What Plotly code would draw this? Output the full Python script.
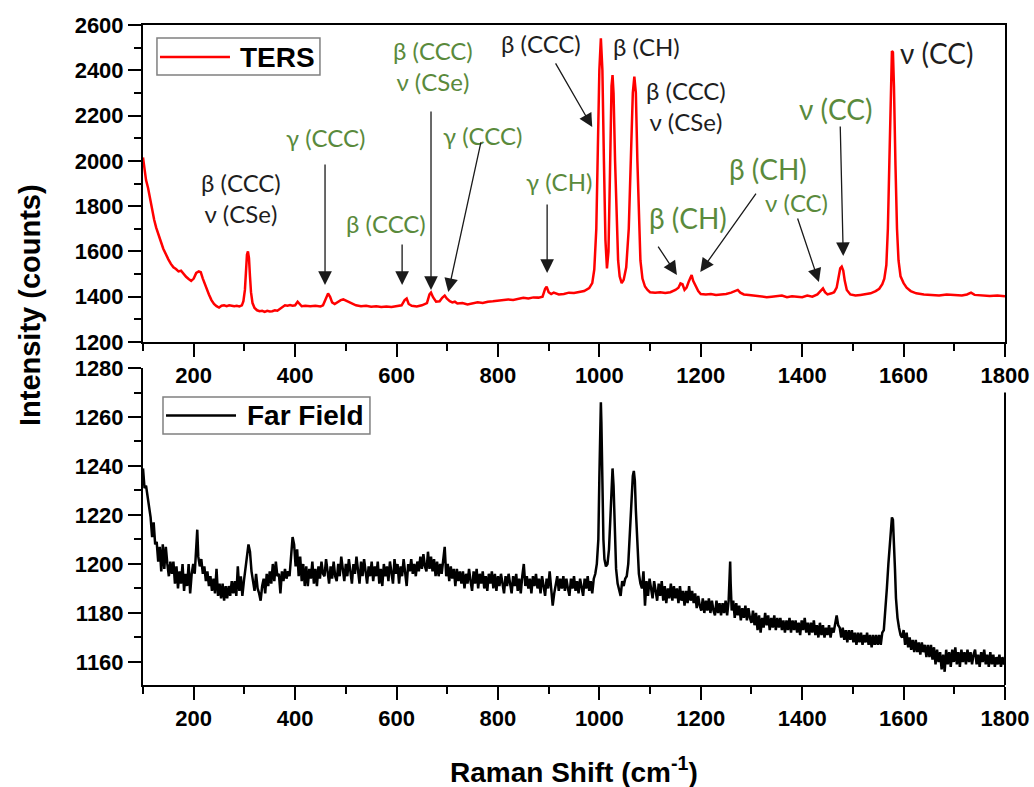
import plotly.graph_objects as go

# ---------------- data ----------------
ters_x = [100, 103, 106, 110, 114, 118, 122, 126, 130, 135, 140, 145, 150, 155, 160, 165, 170, 175, 180, 185,
          190, 195, 200, 205, 210, 214, 218, 222, 226, 230, 235, 240, 245, 250, 255, 260, 265, 270, 275, 280,
          285, 290, 295, 298, 301, 303, 305, 307, 309, 311, 313, 316, 320, 325, 330, 335, 340, 345, 350, 355,
          360, 365, 370, 375, 380, 385, 390, 395, 400, 405, 409, 413, 420, 430, 440, 450, 455, 460, 465, 469,
          473, 478, 485, 490, 495, 500, 505, 510, 520, 530, 540, 550, 560, 570, 580, 590, 600, 610, 616, 620,
          624, 630, 640, 650, 660, 665, 668, 672, 678, 685, 690, 695, 699, 705, 710, 715, 720, 730, 740, 750,
          760, 770, 780, 790, 800, 810, 820, 830, 840, 850, 860, 870, 880, 888, 893, 896, 900, 905, 910, 920,
          930, 940, 950, 960, 970, 980, 986, 990, 994, 997, 1000, 1003, 1006, 1009, 1012, 1015, 1018, 1021, 1024, 1026,
          1028, 1031, 1034, 1037, 1040, 1044, 1048, 1053, 1058, 1062, 1066, 1069, 1072, 1075, 1078, 1081, 1085, 1090, 1095, 1100,
          1110, 1120, 1130, 1140, 1150, 1156, 1160, 1164, 1168, 1172, 1176, 1180, 1182, 1185, 1190, 1195, 1200, 1210, 1220, 1230,
          1240, 1250, 1260, 1268, 1273, 1278, 1285, 1295, 1310, 1320, 1330, 1340, 1350, 1360, 1370, 1380, 1390, 1400, 1410, 1420,
          1430, 1436, 1441, 1445, 1450, 1458, 1463, 1468, 1472, 1475, 1478, 1481, 1484, 1488, 1495, 1505, 1515, 1525, 1535, 1545,
          1552, 1558, 1562, 1566, 1569, 1572, 1575, 1577, 1579, 1581, 1584, 1587, 1590, 1594, 1600, 1606, 1614, 1625, 1640, 1655,
          1670, 1685, 1700, 1715, 1725, 1733, 1740, 1755, 1770, 1785, 1800]
ters_y = [2015, 1960, 1915, 1880, 1830, 1780, 1740, 1705, 1675, 1645, 1612, 1585, 1565, 1545, 1530, 1522, 1512, 1515, 1500, 1488,
          1478, 1470, 1480, 1505, 1512, 1508, 1480, 1455, 1435, 1410, 1385, 1368, 1358, 1352, 1360, 1362, 1358, 1362, 1360, 1358,
          1360, 1357, 1362, 1380, 1430, 1500, 1585, 1600, 1570, 1490, 1420, 1372, 1350, 1340, 1336, 1338, 1333, 1338, 1335, 1336,
          1340, 1338, 1345, 1355, 1362, 1360, 1363, 1360, 1362, 1378, 1370, 1358, 1360, 1358, 1360, 1357, 1362, 1390, 1414, 1400,
          1375, 1368, 1378, 1385, 1388, 1383, 1378, 1370, 1362, 1358, 1360, 1356, 1358, 1355, 1357, 1355, 1358, 1362, 1385, 1392,
          1368, 1360, 1357, 1362, 1372, 1410, 1418, 1398, 1378, 1380, 1395, 1405, 1392, 1380, 1375, 1378, 1370, 1372, 1366, 1370,
          1375, 1372, 1378, 1380, 1382, 1384, 1388, 1386, 1390, 1395, 1392, 1397, 1396, 1400, 1435, 1444, 1420, 1412, 1418, 1410,
          1412, 1418, 1416, 1422, 1425, 1438, 1460, 1520, 1700, 2050, 2400, 2541, 2400, 2000, 1650, 1525, 1600, 1950, 2330, 2379,
          2300, 2000, 1720, 1560, 1490, 1460, 1475, 1530, 1700, 1980, 2300, 2372, 2300, 2000, 1720, 1560, 1480, 1445, 1430, 1420,
          1418, 1420, 1416, 1420, 1430, 1440, 1459, 1455, 1430, 1440, 1465, 1490, 1496, 1470, 1445, 1425, 1412, 1410, 1412, 1408,
          1410, 1412, 1418, 1425, 1430, 1418, 1410, 1408, 1405, 1402, 1398, 1400, 1404, 1405, 1398, 1402, 1400, 1398, 1405, 1400,
          1410, 1425, 1437, 1420, 1410, 1415, 1420, 1440, 1490, 1525, 1533, 1515, 1470, 1430, 1410, 1405, 1408, 1410, 1415, 1425,
          1435, 1455, 1480, 1540, 1700, 2000, 2350, 2485, 2480, 2330, 1980, 1700, 1560, 1490, 1460, 1440, 1425, 1415, 1410, 1408,
          1405, 1410, 1408, 1405, 1410, 1418, 1408, 1405, 1403, 1405, 1402]

ff_x = [100, 103, 106, 109, 112, 115, 118, 121, 124, 127,
        130, 133, 136, 139, 142, 145, 148, 151, 154, 157,
        160, 163, 166, 169, 172, 175, 178, 181, 184, 187,
        190, 193, 196, 199, 202, 205, 207, 209, 212, 215,
        218, 221, 224, 227, 230, 233, 236, 239, 242, 245,
        248, 251, 254, 257, 260, 263, 266, 269, 272, 275,
        278, 281, 284, 287, 290, 293, 296, 299, 302, 305,
        308, 311, 314, 317, 320, 323, 326, 329, 332, 335,
        338, 341, 344, 347, 350, 353, 356, 359, 362, 365,
        368, 371, 374, 377, 380, 383, 386, 389, 392, 395,
        398, 401, 404, 407, 410, 413, 416, 419, 422, 425,
        428, 431, 434, 437, 440, 443, 446, 449, 452, 455,
        458, 461, 464, 467, 470, 473, 476, 479, 482, 485,
        488, 491, 494, 497, 500, 503, 506, 509, 512, 515,
        518, 521, 524, 527, 530, 533, 536, 539, 542, 545,
        548, 551, 554, 557, 560, 563, 566, 569, 572, 575,
        578, 581, 584, 587, 590, 593, 596, 599, 602, 605,
        608, 611, 614, 617, 620, 623, 626, 629, 632, 635,
        638, 641, 644, 647, 650, 653, 656, 659, 662, 665,
        668, 671, 674, 677, 680, 683, 686, 689, 692, 695,
        698, 701, 704, 707, 710, 713, 716, 719, 722, 725,
        728, 731, 734, 737, 740, 743, 746, 749, 752, 755,
        758, 761, 764, 767, 770, 773, 776, 779, 782, 785,
        788, 791, 794, 797, 800, 803, 806, 809, 812, 815,
        818, 821, 824, 827, 830, 833, 836, 839, 842, 845,
        848, 851, 854, 857, 860, 863, 866, 869, 872, 875,
        878, 881, 884, 887, 890, 893, 896, 899, 902, 905,
        908, 911, 914, 917, 920, 923, 926, 929, 932, 935,
        938, 941, 944, 947, 950, 953, 956, 959, 962, 965,
        968, 971, 974, 977, 980, 983, 986, 989, 992, 995,
        998, 1000, 1002, 1003, 1004, 1006, 1008, 1010, 1013, 1016,
        1019, 1022, 1024, 1026, 1028, 1030, 1033, 1036, 1039, 1042,
        1045, 1048, 1051, 1054, 1057, 1060, 1063, 1066, 1068, 1070,
        1072, 1075, 1078, 1081, 1084, 1087, 1090, 1093, 1096, 1099,
        1102, 1105, 1108, 1111, 1114, 1117, 1120, 1123, 1126, 1129,
        1132, 1135, 1138, 1141, 1144, 1147, 1150, 1153, 1156, 1159,
        1162, 1165, 1168, 1171, 1174, 1177, 1180, 1183, 1186, 1189,
        1192, 1195, 1198, 1201, 1204, 1207, 1210, 1213, 1216, 1219,
        1222, 1225, 1228, 1231, 1234, 1237, 1240, 1243, 1246, 1249,
        1252, 1255, 1257, 1258, 1259, 1261, 1264, 1267, 1270, 1273,
        1276, 1279, 1282, 1285, 1288, 1291, 1294, 1297, 1300, 1303,
        1306, 1309, 1312, 1315, 1318, 1321, 1324, 1327, 1330, 1333,
        1336, 1339, 1342, 1345, 1348, 1351, 1354, 1357, 1360, 1363,
        1366, 1369, 1372, 1375, 1378, 1381, 1384, 1387, 1390, 1393,
        1396, 1399, 1402, 1405, 1408, 1411, 1414, 1417, 1420, 1423,
        1426, 1429, 1432, 1435, 1438, 1441, 1444, 1447, 1450, 1453,
        1456, 1459, 1462, 1465, 1468, 1471, 1474, 1477, 1480, 1483,
        1486, 1489, 1492, 1495, 1498, 1501, 1504, 1507, 1510, 1513,
        1516, 1519, 1522, 1525, 1528, 1531, 1534, 1537, 1540, 1543,
        1546, 1549, 1552, 1555, 1558, 1561, 1564, 1567, 1570, 1573,
        1575, 1577, 1579, 1581, 1583, 1585, 1588, 1591, 1594, 1597,
        1600, 1603, 1606, 1609, 1612, 1615, 1618, 1621, 1624, 1627,
        1630, 1633, 1636, 1639, 1642, 1645, 1648, 1651, 1654, 1657,
        1660, 1663, 1666, 1669, 1672, 1675, 1678, 1681, 1684, 1687,
        1690, 1693, 1696, 1699, 1702, 1705, 1708, 1711, 1714, 1717,
        1720, 1723, 1726, 1729, 1732, 1735, 1738, 1741, 1744, 1747,
        1750, 1753, 1756, 1759, 1762, 1765, 1768, 1771, 1774, 1777,
        1780, 1783, 1786, 1789, 1792, 1795, 1798, 1800]
ff_y = [1239, 1231, 1232, 1228, 1224, 1219, 1211, 1217, 1208, 1209,
        1201, 1207, 1197, 1208, 1198, 1207, 1200, 1195, 1201, 1196,
        1201, 1192, 1199, 1190, 1197, 1192, 1200, 1189, 1196, 1191,
        1200, 1188, 1196, 1200, 1196, 1206, 1214, 1203, 1199, 1202,
        1196, 1199, 1193, 1197, 1191, 1195, 1189, 1194, 1188, 1198,
        1187, 1192, 1186, 1192, 1185, 1191, 1186, 1191, 1187, 1193,
        1188, 1193, 1187, 1199, 1189, 1195, 1187, 1193, 1198, 1203,
        1208, 1205, 1197, 1193, 1189, 1196, 1190, 1188, 1185, 1191,
        1194, 1188, 1196, 1191, 1197, 1192, 1200, 1193, 1201, 1195,
        1196, 1188, 1197, 1193, 1198, 1194, 1197, 1195, 1204, 1211,
        1208, 1199, 1206, 1195, 1203, 1193, 1200, 1191, 1199, 1191,
        1198, 1194, 1201, 1192, 1198, 1191, 1199, 1194, 1201, 1196,
        1195, 1202, 1197, 1192, 1199, 1194, 1201, 1195, 1193, 1200,
        1195, 1203, 1198, 1193, 1200, 1195, 1202, 1196, 1192, 1200,
        1196, 1203, 1197, 1192, 1201, 1195, 1202, 1196, 1192, 1199,
        1195, 1201, 1193, 1199, 1195, 1201, 1192, 1198, 1191, 1200,
        1195, 1199, 1193, 1201, 1196, 1192, 1202, 1196, 1200, 1192,
        1199, 1195, 1202, 1196, 1191, 1200, 1197, 1202, 1196, 1200,
        1195, 1201, 1197, 1203, 1198, 1204, 1199, 1197, 1205, 1198,
        1203, 1197, 1202, 1195, 1201, 1195, 1200, 1196, 1202, 1207,
        1195, 1200, 1193, 1199, 1194, 1198, 1191, 1198, 1193, 1197,
        1192, 1197, 1190, 1196, 1192, 1198, 1193, 1189, 1197, 1192,
        1198, 1190, 1196, 1192, 1197, 1190, 1195, 1189, 1196, 1192,
        1197, 1190, 1196, 1189, 1195, 1191, 1196, 1192, 1188, 1195,
        1191, 1196, 1192, 1188, 1195, 1191, 1196, 1189, 1194, 1188,
        1195, 1200, 1191, 1195, 1190, 1194, 1188, 1195, 1191, 1196,
        1190, 1194, 1188, 1195, 1191, 1187, 1194, 1190, 1197, 1189,
        1183, 1188, 1192, 1195, 1189, 1194, 1190, 1195, 1189, 1194,
        1190, 1187, 1194, 1190, 1195, 1189, 1193, 1188, 1194, 1190,
        1187, 1194, 1190, 1195, 1189, 1193, 1188, 1194, 1196, 1200,
        1210, 1235, 1260, 1266, 1258, 1230, 1210, 1202, 1199, 1200,
        1206, 1220, 1233, 1239, 1232, 1215, 1198, 1192, 1190, 1187,
        1193, 1191, 1194, 1195, 1200, 1212, 1225, 1236, 1238, 1234,
        1222, 1205, 1196, 1192, 1190, 1197, 1183, 1193, 1187, 1194,
        1189, 1186, 1193, 1188, 1185, 1192, 1187, 1193, 1185, 1191,
        1184, 1190, 1186, 1192, 1185, 1191, 1186, 1190, 1184, 1191,
        1185, 1189, 1183, 1189, 1184, 1191, 1185, 1189, 1184, 1188,
        1182, 1187, 1183, 1181, 1186, 1180, 1185, 1181, 1186, 1180,
        1185, 1181, 1179, 1185, 1180, 1184, 1179, 1184, 1180, 1185,
        1179, 1185, 1195, 1201, 1192, 1181, 1185, 1178, 1184, 1179,
        1183, 1177, 1182, 1178, 1183, 1177, 1182, 1178, 1176, 1181,
        1175, 1180, 1173, 1179, 1172, 1178, 1174, 1180, 1175, 1179,
        1173, 1178, 1174, 1179, 1173, 1178, 1174, 1178, 1173, 1177,
        1172, 1177, 1173, 1178, 1172, 1177, 1173, 1177, 1172, 1176,
        1171, 1177, 1173, 1178, 1172, 1176, 1171, 1176, 1172, 1177,
        1171, 1175, 1170, 1176, 1171, 1175, 1170, 1174, 1171, 1175,
        1170, 1174, 1172, 1176, 1179, 1175, 1174, 1170, 1174, 1169,
        1173, 1168, 1173, 1169, 1173, 1168, 1172, 1167, 1172, 1168,
        1172, 1167, 1171, 1168, 1172, 1167, 1171, 1166, 1171, 1167,
        1171, 1167, 1171, 1167, 1172, 1173, 1180, 1190, 1200, 1210,
        1216, 1219, 1218, 1210, 1198, 1186, 1178, 1174, 1171, 1170,
        1173, 1167, 1172, 1166, 1170, 1165, 1169, 1164, 1169, 1164,
        1168, 1163, 1168, 1164, 1167, 1162, 1167, 1162, 1167, 1161,
        1166, 1159, 1165, 1160, 1164, 1157, 1163, 1156, 1165, 1159,
        1164, 1158, 1165, 1160, 1166, 1159, 1164, 1158, 1165, 1160,
        1164, 1159, 1165, 1160, 1164, 1159, 1163, 1165, 1159, 1163,
        1158, 1164, 1160, 1165, 1159, 1163, 1158, 1164, 1159, 1163,
        1158, 1162, 1159, 1163, 1158, 1162, 1159, 1161]

# peak labels (text, x, y, colour key, size key)
label_text = ["β (CCC)<br>ν (CSe)", "γ (CCC)", "β (CCC)", "β (CCC)<br>ν (CSe)", "γ (CCC)", "γ (CH)",
              "β (CCC)", "β (CH)", "β (CCC)<br>ν (CSe)", "β (CH)", "β (CH)", "ν (CC)", "ν (CC)", "ν (CC)"]
label_x = [293, 459, 579, 672, 769, 920, 885, 1092, 1171, 1175, 1333, 1388, 1467, 1666]
label_y = [1836, 2105, 1725, 2419, 2114, 1907, 2520, 2507, 2242, 1747, 1964, 1814, 2229, 2476]
label_green = [False, True, True, True, True, True, False, False, False, True, True, True, True, False]
label_big = [False, False, False, False, False, False, False, False, False, True, True, False, True, True]

# arrows: tail -> head (data coordinates of the TERS panel)
arrow_tail_x = [459, 611, 668, 767, 897, 912, 1114, 1311, 1390, 1475]
arrow_tail_y = [1990, 1637, 2225, 2088, 1814, 2437, 1628, 1862, 1752, 2158]
arrow_head_x = [459, 611, 668, 702, 897, 986, 1153, 1199, 1433, 1481]
arrow_head_y = [1452, 1452, 1430, 1421, 1505, 2149, 1496, 1509, 1465, 1580]

GREEN = "#5a8a3c"
BLACK_TXT = "#1e1e1e"
BOLD = "Liberation Sans, Arial, sans-serif"
TICKFONT = dict(family=BOLD, size=22, color="black", weight="bold")

fig = go.Figure()
fig.add_trace(go.Scatter(x=ters_x, y=ters_y, mode="lines", name="TERS",
                         line=dict(color="#ff0000", width=2.5), xaxis="x", yaxis="y",
                         showlegend=False))
fig.add_trace(go.Scatter(x=ff_x, y=ff_y, mode="lines", name="Far Field",
                         line=dict(color="black", width=2.5), xaxis="x2", yaxis="y2",
                         showlegend=False))

common = dict(showline=True, linecolor="black", linewidth=2, ticks="outside", tickwidth=2,
              tickcolor="black", ticklen=13, showgrid=False, zeroline=False, tickfont=TICKFONT)
minor_x = dict(dtick=100, ticks="outside", ticklen=7, tickwidth=2, tickcolor="black")

fig.update_layout(
    width=1034, height=787,
    margin=dict(l=143, r=29, t=25, b=102, autoexpand=False),
    plot_bgcolor="white", paper_bgcolor="white",
    showlegend=False,
    xaxis=dict(domain=[0, 1], anchor="y", range=[100, 1800], tick0=0, dtick=200, mirror=True,
               minor=minor_x, **common),
    yaxis=dict(domain=[0.5197, 1], anchor="x", range=[1200, 2600], tick0=0, dtick=200, mirror=True,
               minor=dict(dtick=100, ticks="outside", ticklen=7, tickwidth=2, tickcolor="black"),
               **common),
    xaxis2=dict(domain=[0, 1], anchor="y2", range=[100, 1800], tick0=0, dtick=200,
                minor=minor_x, **common),
    yaxis2=dict(domain=[0, 0.4803], anchor="x2", range=[1150.6, 1280], tick0=0, dtick=20,
                minor=dict(dtick=10, ticks="outside", ticklen=7, tickwidth=2, tickcolor="black"),
                **common),
)

# right frame of the lower panel (interrupted below the upper tick labels)
fig.add_shape(type="line", xref="x2 domain", x0=1, x1=1, yref="y2", y0=1150.6, y1=1270,
              line=dict(color="black", width=2))

# legend boxes (drawn as in the original: long line sample + bold name)
fig.add_shape(type="rect", xref="paper", yref="paper", x0=0.0162, x1=0.2053, y0=0.9242, y1=0.9803,
              line=dict(color="#808080", width=1.5), fillcolor="white", layer="above")
fig.add_shape(type="line", xref="paper", yref="paper", x0=0.0197, x1=0.1009, y0=0.9515, y1=0.9515,
              line=dict(color="#ff0000", width=2.5), layer="above")
fig.add_annotation(text="TERS", xref="paper", yref="paper", x=0.1102, y=0.9515, xanchor="left",
                   yanchor="middle", showarrow=False,
                   font=dict(family=BOLD, size=28, color="black", weight="bold"))
fig.add_shape(type="rect", xref="paper", yref="paper", x0=0.0232, x1=0.2633, y0=0.3803, y1=0.4364,
              line=dict(color="#808080", width=1.5), fillcolor="white", layer="above")
fig.add_shape(type="line", xref="paper", yref="paper", x0=0.0267, x1=0.1079, y0=0.4083, y1=0.4083,
              line=dict(color="black", width=2.5), layer="above")
fig.add_annotation(text="Far Field", xref="paper", yref="paper", x=0.1183, y=0.4083, xanchor="left",
                   yanchor="middle", showarrow=False,
                   font=dict(family=BOLD, size=28, color="black", weight="bold"))

# axis titles
fig.add_annotation(text="Intensity (counts)", xref="paper", yref="paper", x=-0.131, y=0.5758,
                   textangle=-90, showarrow=False, xanchor="center", yanchor="middle",
                   font=dict(family=BOLD, size=29, color="black", weight="bold"))
fig.add_annotation(text="Raman Shift (cm<sup>-1</sup>)", xref="paper", yref="paper", x=0.5, y=-0.1288,
                   showarrow=False, xanchor="center", yanchor="middle",
                   font=dict(family=BOLD, size=28, color="black", weight="bold"))

for t, lx, ly, g, b in zip(label_text, label_x, label_y, label_green, label_big):
    fig.add_annotation(text=t, x=lx, y=ly, xref="x", yref="y", showarrow=False,
                       xanchor="center", yanchor="middle",
                       font=dict(family="Lato, Open Sans, sans-serif", size=28 if b else 24,
                                 color=GREEN if g else BLACK_TXT))

for tx, ty, hx, hy in zip(arrow_tail_x, arrow_tail_y, arrow_head_x, arrow_head_y):
    fig.add_annotation(x=hx, y=hy, ax=tx, ay=ty, xref="x", yref="y", axref="x", ayref="y",
                       text="", showarrow=True, arrowhead=2, arrowsize=2.1, arrowwidth=1.3,
                       arrowcolor="#1a1a1a", standoff=0)

fig.write_html("out.html")
